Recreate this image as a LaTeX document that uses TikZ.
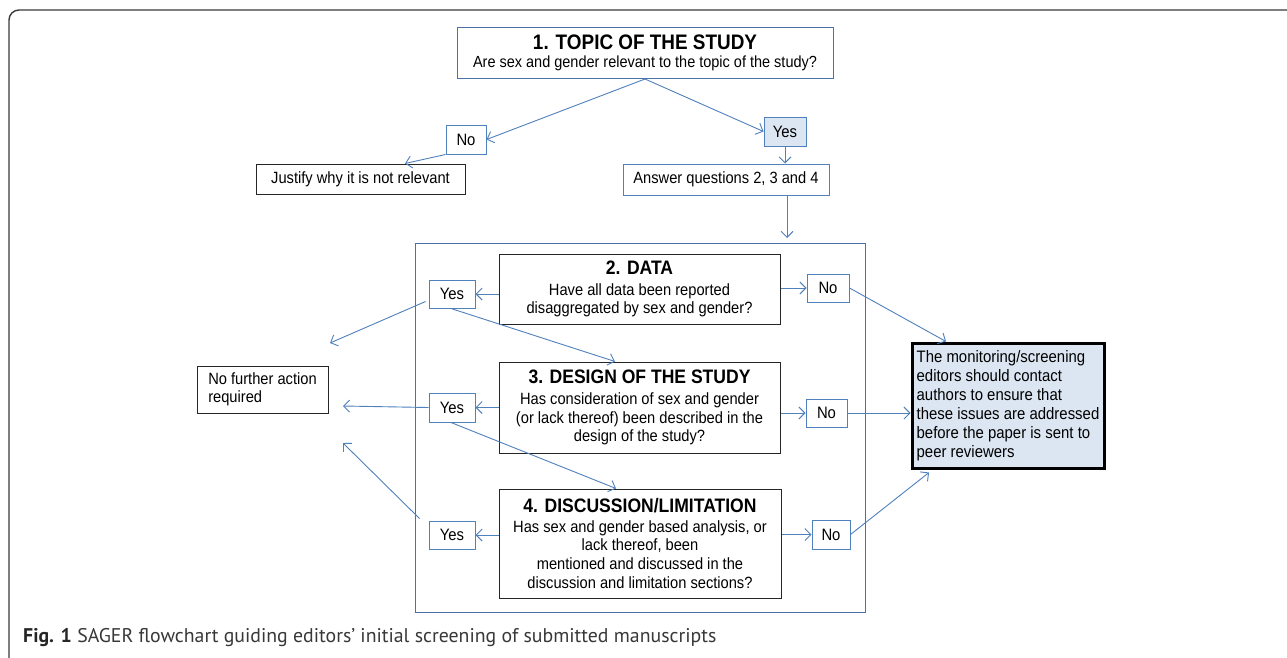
\documentclass[tikz,border=0pt]{standalone}
\usepackage{fontspec}
\setmainfont[FakeStretch=0.9]{Liberation Sans}
\newfontfamily\capfont{PT Sans}
\usetikzlibrary{arrows.meta}
\definecolor{arrowblue}{HTML}{4F81BD}
\definecolor{boxblue}{HTML}{4A72A8}
\definecolor{fillblue}{HTML}{DCE6F2}
\definecolor{framegray}{HTML}{3A3A3A}
\newcommand{\titlef}{\fontsize{19.5}{20}\selectfont\bfseries}
\begin{document}
\begin{tikzpicture}[x=1pt,y=-1pt,
  conn/.style={draw=arrowblue, line width=0.9pt, -{Straight Barb[length=6pt,width=12pt,line width=0.9pt]}},
  qbox/.style={draw=black!85, line width=1pt, fill=white, inner sep=0pt, align=center,
     font=\fontsize{16.3}{18.8}\selectfont},
  ynbox/.style={draw=arrowblue, line width=1pt, fill=white, inner sep=0pt,
     font=\fontsize{16.5}{18}\selectfont},
  blkbox/.style={draw=black!85, line width=1pt, fill=white, inner sep=0pt,
     font=\fontsize{16.3}{18.5}\selectfont},
  bluebox/.style={draw=arrowblue, line width=1pt, fill=white, inner sep=0pt,
     font=\fontsize{16.3}{18.5}\selectfont}
]
\useasboundingbox (0,0) rectangle (1287,657);
\fill[white] (0,0) rectangle (1287,657);
% outer frame
\draw[draw=framegray, line width=1.4pt, rounded corners=10pt] (9,700) -- (9,10) -- (1330,10);

% top part
\node[draw=boxblue, line width=1pt, fill=white, inner sep=0pt, align=center,
      minimum width=376, minimum height=51] (q1) at (645,53)
  {{\fontsize{21}{21}\selectfont\bfseries 1. TOPIC OF THE STUDY}\\[6pt]
   {\fontsize{16.1}{17}\selectfont Are sex and gender relevant to the topic of the study?}};
\node[ynbox, minimum width=40, minimum height=29] (noT) at (466,139.5) {No};
\node[ynbox, fill=fillblue, minimum width=42, minimum height=29] (yesT) at (785,131.5) {Yes};
\node[blkbox, minimum width=209, minimum height=30] (just) at (360.5,179) {Justify why it is not relevant};
\node[bluebox, minimum width=206, minimum height=31] (ans) at (726,179.5) {Answer questions 2, 3 and 4};

\draw[conn] (q1.south) -- (noT.east);
\draw[conn] (q1.south) -- (yesT.west);
\draw[conn] (noT.south west) -- ([xshift=44.5pt]just.north);
\draw[conn] (yesT.south) -- (yesT.south |- ans.north);
\coordinate (enter) at (787,238);
\draw[conn] (ans.south -| enter) -- (enter);

% big frame
\draw[draw=boxblue, line width=1pt] (415,243) rectangle (865,612);

% question boxes
\node[qbox, minimum width=281, minimum height=70] (q2) at (639.5,289)
  {{\titlef 2. DATA}\\[2pt]Have all data been reported\\disaggregated by sex and gender?};
\node[qbox, minimum width=281, minimum height=91] (q3) at (639.5,407.5)
  {{\titlef 3. DESIGN OF THE STUDY}\\[2pt]Has consideration of sex and gender\\(or lack thereof) been described in the\\design of the study?};
\node[qbox, minimum width=282, minimum height=109] (q4) at (640,543.5)
  {{\titlef 4. DISCUSSION/LIMITATION}\\[1pt]Has sex and gender based analysis, or\\lack thereof, been\\mentioned and discussed in the\\discussion and limitation sections?};

\node[ynbox, minimum width=46, minimum height=28] (yes2) at (452,294) {Yes};
\node[ynbox, minimum width=42, minimum height=28] (no2) at (828,288) {No};
\node[ynbox, minimum width=46, minimum height=29] (yes3) at (452,407.5) {Yes};
\node[ynbox, minimum width=41, minimum height=28] (no3) at (826.5,413) {No};
\node[ynbox, minimum width=46, minimum height=28] (yes4) at (452,535) {Yes};
\node[ynbox, minimum width=38, minimum height=29] (no4) at (831,534.5) {No};

% side boxes
\node[blkbox, minimum width=131, minimum height=47, align=left] (nfa) at (262.5,389.5)
  {No further action\\required};
\node[draw=black, line width=3pt, fill=fillblue, inner sep=0pt, minimum width=192, minimum height=125,
      align=left, font=\fontsize{16.6}{19}\selectfont] (rbox) at (1008,405.5)
  {The monitoring/screening\\editors should contact\\authors to ensure that\\these issues are addressed\\before the paper is sent to\\peer reviewers};

% connectors inside
\draw[conn] (q2.west |- yes2.east) -- (yes2.east);
\draw[conn] (q2.east |- no2.west) -- (no2.west);
\coordinate (free2) at (330,343);
\draw[conn] ([shift={(-3pt,7pt)}]yes2.south west) -- (free2);
\draw[conn] ([xshift=-1pt]yes2.south) -- ([xshift=-24.5pt]q3.north);

\draw[conn] (q3.west |- yes3.east) -- (yes3.east);
\draw[conn] (q3.east |- no3.west) -- (no3.west);
\coordinate (free3) at (343,406);
\draw[conn] (yes3.west) -- (free3);
\draw[conn] ([xshift=-1pt]yes3.south) -- ([xshift=-24pt]q4.north);

\draw[conn] (q4.west |- yes4.east) -- (yes4.east);
\draw[conn] (q4.east |- no4.west) -- (no4.west);
\coordinate (free4) at (343,443);
\draw[conn] ([shift={(-9pt,2pt)}]yes4.north west) -- (free4);

\draw[conn] (no2.east) -- ([xshift=-62pt]rbox.north);
\draw[conn] (no3.east) -- (rbox.west |- no3.east);
\draw[conn] (no4.east) -- ([shift={(-79pt,-3pt)}]rbox.south);

% caption
\node[anchor=west, inner sep=0pt, text=black!78, font=\capfont\fontsize{19.8}{21}\selectfont] (cap) at (23,638)
  {\textbf{\color{black!85}Fig. 1} SAGER flowchart guiding editors’ initial screening of submitted manuscripts};
\end{tikzpicture}
\end{document}
